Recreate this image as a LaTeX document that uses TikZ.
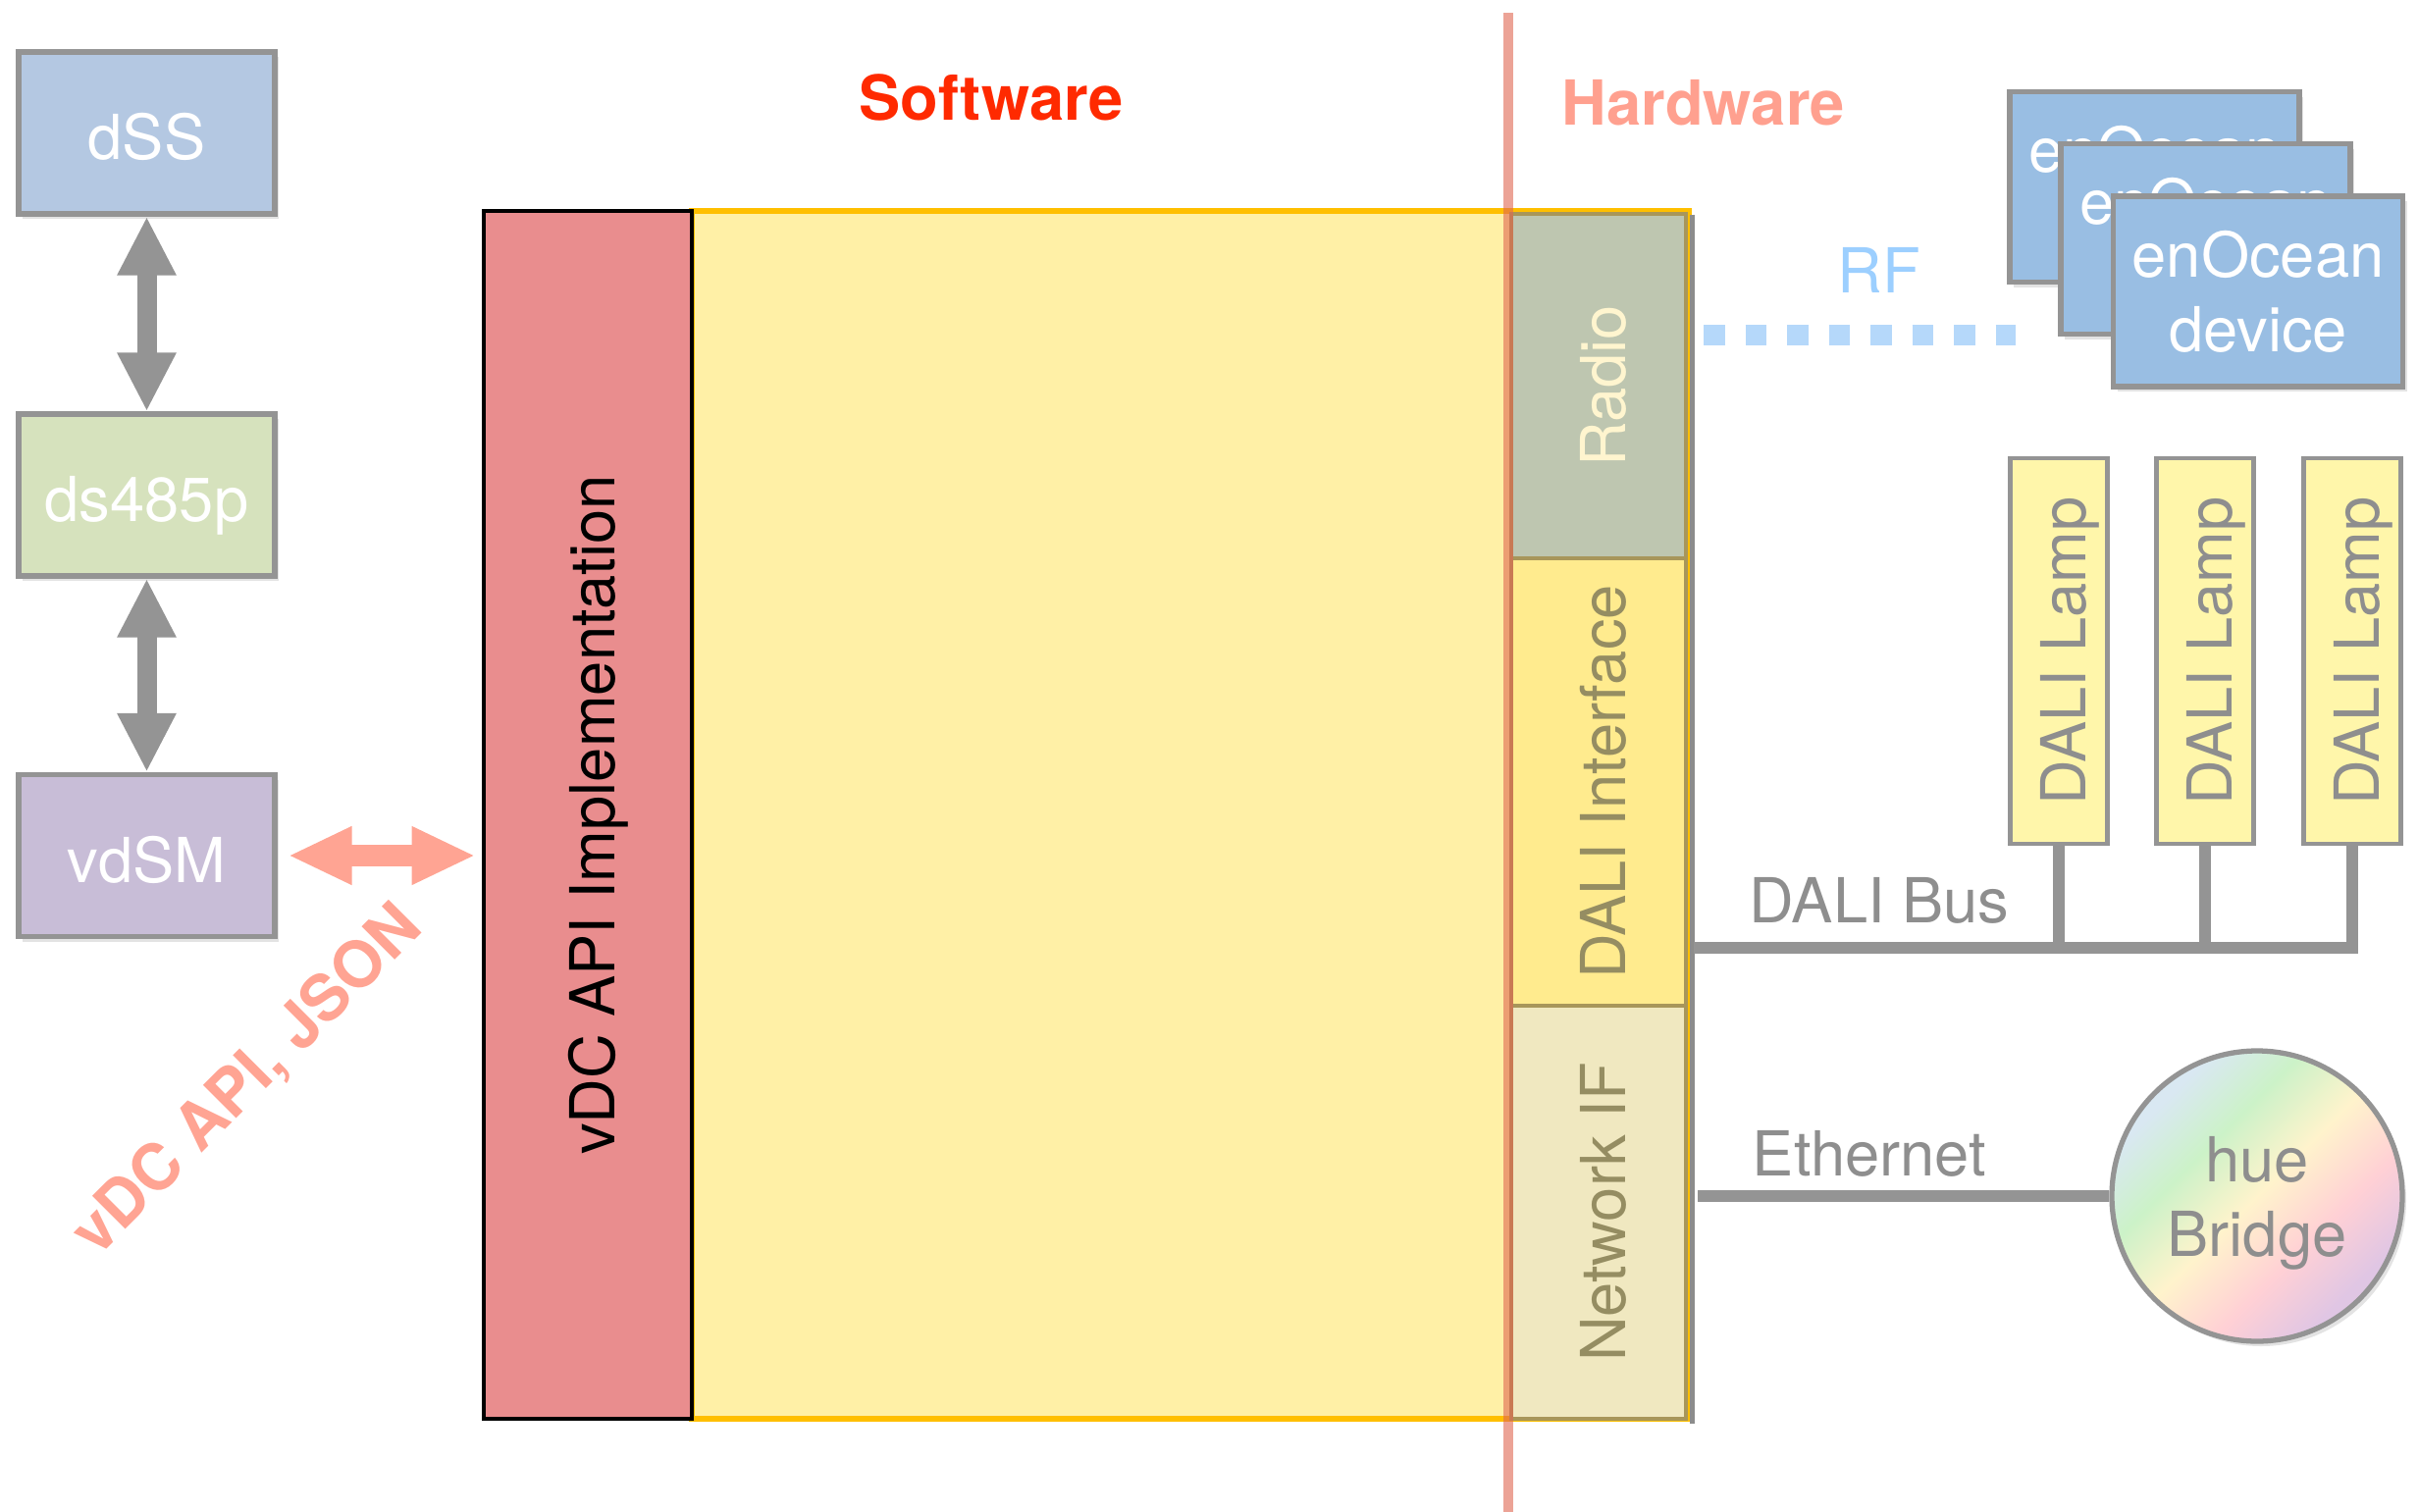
\documentclass[tikz,border=0pt]{standalone}
\usepackage{fontspec}
\setmainfont{TeX Gyre Heros}
\usetikzlibrary{arrows.meta,shadows,positioning,calc}

\definecolor{dssblue}{HTML}{B4C8E2}
\definecolor{dsgreen}{HTML}{D6E2BD}
\definecolor{vdsmlilac}{HTML}{C8BDD7}
\definecolor{boxgray}{HTML}{949494}
\definecolor{labelgray}{HTML}{8E8E8E}
\definecolor{implred}{HTML}{E98D8E}
\definecolor{swyellow}{HTML}{FFF0A6}
\definecolor{swborder}{HTML}{FFBF00}
\definecolor{radiogreen}{HTML}{BEC6B0}
\definecolor{daliyellow}{HTML}{FFEB8E}
\definecolor{netcream}{HTML}{F0E8C0}
\definecolor{hwedge}{HTML}{A8965A}
\definecolor{hwtext}{HTML}{958D62}
\definecolor{radiotext}{HTML}{FFF5CF}
\definecolor{splitred}{HTML}{E06650}
\definecolor{swred}{HTML}{FF2A00}
\definecolor{hwsalmon}{HTML}{FFA08F}
\definecolor{salmon}{HTML}{FFA493}
\definecolor{enblue}{HTML}{99BEE3}
\definecolor{rfblue}{HTML}{B5D8FA}
\definecolor{rftext}{HTML}{9CCFFF}
\definecolor{lampyellow}{HTML}{FFF6AA}
\definecolor{huesky}{HTML}{D9E8F2}
\definecolor{huegreen}{HTML}{CCF2C8}
\definecolor{hueyellow}{HTML}{FFF3CC}
\definecolor{huepink}{HTML}{FFD0D5}
\definecolor{huelilac}{HTML}{E0C6E4}

\pgfdeclarehorizontalshading{huerainbow}{100bp}{color(0bp)=(huesky); color(27bp)=(huesky);
  color(38bp)=(huegreen); color(50bp)=(hueyellow); color(62bp)=(huepink);
  color(73bp)=(huelilac); color(100bp)=(huelilac)}

\begin{document}
\begin{tikzpicture}[x=1cm,y=-1cm,
    every node/.style={font=\fontsize{18}{21.6}\selectfont},
    softshadow/.style={drop shadow={opacity=0.22, shadow xshift=0.04cm, shadow yshift=-0.05cm}},
    lowtext/.style={text height=15.6pt, text depth=0pt},
    sysbox/.style={draw=boxgray, line width=1.5pt, minimum width=2.61cm,
      minimum height=1.65cm, text=white, lowtext, softshadow},
    hwpart/.style={rotate=90, draw=hwedge, line width=1.2pt, inner sep=0pt,
      minimum height=1.78cm, text=hwtext, lowtext},
    enbox/.style={draw=boxgray, line width=1.6pt, fill=enblue, text=white,
      minimum width=2.95cm, minimum height=1.94cm, align=center, inner sep=0pt, softshadow},
    lampbox/.style={rotate=90, draw=boxgray, line width=1.3pt, fill=lampyellow,
      text=labelgray, inner sep=0pt, minimum width=3.93cm, minimum height=0.99cm, lowtext},
    duplex/.style={draw=boxgray, line width=0.2cm,
      {Triangle[width=0.56cm,length=0.6cm]}-{Triangle[width=0.56cm,length=0.6cm]}},
    apiarrow/.style={draw=salmon, line width=0.22cm,
      {Triangle[width=0.55cm,length=0.65cm]}-{Triangle[width=0.55cm,length=0.65cm]}},
    wire/.style={draw=boxgray, line width=0.12cm},
    rflink/.style={draw=rfblue, line width=0.21cm, dash pattern=on 0.215cm off 0.21cm},
    splitline/.style={draw=splitred, line width=0.1cm, opacity=0.6},
    heading/.style={font=\fontsize{18}{21.6}\selectfont\bfseries}
  ]
  \useasboundingbox (0,0) rectangle (24.64,15.41);

  % digitalSTROM side
  \node[sysbox, fill=dssblue] (dss) at (1.495,1.355) {dSS};
  \node[sysbox, fill=dsgreen] (ds485p) at (1.495,5.045) {ds485p};
  \node[sysbox, fill=vdsmlilac] (vdsm) at (1.495,8.72) {vdSM};
  \draw[duplex] (dss.south) -- (ds485p.north);
  \draw[duplex] (ds485p.south) -- (vdsm.north);

  % the vDC itself
  \node[draw=swborder, line width=1.6pt, fill=swyellow, minimum width=10.16cm,
    minimum height=12.31cm, inner sep=0pt] (swarea) at (12.13,8.305) {};
  \node[rotate=90, draw=black, line width=1.4pt, fill=implred, minimum width=12.31cm,
    minimum height=2.12cm, inner sep=0pt, lowtext] (impl) at (5.99,8.305) {vDC API Implementation};
  \node[hwpart, fill=radiogreen, text=radiotext, minimum width=3.51cm] (radio) at (16.29,3.935) {Radio};
  \node[hwpart, fill=daliyellow, minimum width=4.56cm] (daliif) at (16.29,7.97) {DALI Interface};
  \node[hwpart, fill=netcream, minimum width=4.21cm] (netif) at (16.29,12.355) {Network IF};
  \draw[black!45, line width=1.6pt] ($(radio.south east)+(0.045,0.03)$) -- ($(netif.south west)+(0.045,0.03)$);
  \draw[splitline] (15.37,0.13) -- (15.37,15.41);

  \node[heading, text=swred] (software) at (10.10,0.99) {Software};
  \node[heading, text=hwsalmon] (hardware) at (17.36,1.05) {Hardware};

  \draw[apiarrow] ($(vdsm.east)+(0.11,0)$) -- ($(vdsm.east -| impl.north)+(-0.06,0)$);
  \node[rotate=45, text=salmon, font=\fontsize{18.6}{22}\selectfont\bfseries] (apilabel)
    at (2.53,11.02) {vDC API, JSON};

  % devices
  \foreach \i/\cx/\cy in {1/21.955/1.905, 2/22.475/2.435, 3/23.01/2.97}
    \node[enbox] (enocean\i) at (\cx,\cy) {enOcean\\device};
  \coordinate (rfend) at (20.54,3.41);
  \draw[rflink] ($(radio.south |- rfend)+(0.16,0)$) -- (rfend);
  \node[text=rftext] (rf) at (19.15,2.75) {RF};

  \foreach \i/\cx in {1/20.98, 2/22.47, 3/23.97}
    \node[lampbox] (lamp\i) at (\cx,6.635) {DALI Lamp};
  \coordinate (busend) at (lamp3.west |- 0,9.66);
  \draw[wire] ($(daliif.south |- busend)+(0.06,0)$) -- (busend) -- (lamp3.west);
  \foreach \i in {1,2}
    \draw[wire] (lamp\i.west) -- (lamp\i.west |- busend);
  \node[text=labelgray] (busname) at (19.15,9.18) {DALI Bus};

  \node[circle, draw=boxgray, line width=1.5pt, shade, shading=huerainbow, shading angle=-45,
    minimum size=2.96cm, inner sep=0pt, align=center, text=labelgray, text depth=0pt, softshadow]
    (hue) at (23.0,12.19) {hue\\Bridge};
  \draw[wire] ($(netif.south |- hue.west)+(0.1,0)$) -- (hue.west);
  \node[text=labelgray] (ethname) at (19.05,11.76) {Ethernet};
\end{tikzpicture}
\end{document}
